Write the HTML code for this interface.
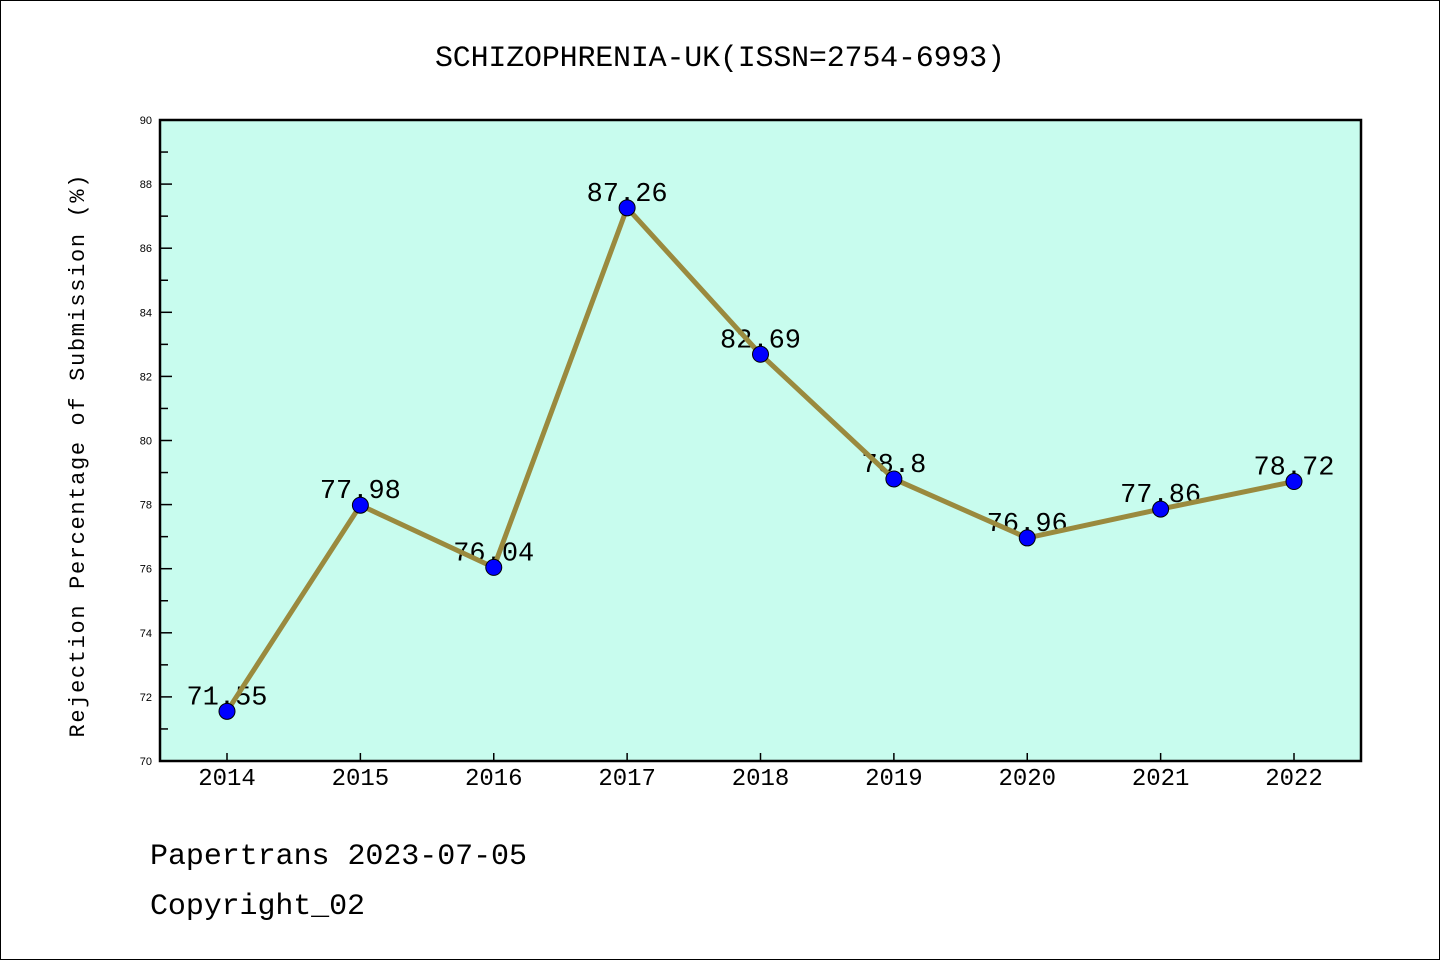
<!DOCTYPE html>
<html><head><meta charset="utf-8"><style>
body{margin:0;background:#fff;}
svg{display:block;font-family:"Liberation Mono","WenQuanYi Zen Hei",monospace;}
</style></head><body>
<svg id="chart" width="1440" height="960">
<rect x="0.5" y="0.5" width="1439" height="959" fill="#fff" stroke="#000"/>
<text x="720" y="66" font-size="30" text-anchor="middle" textLength="570">SCHIZOPHRENIA-UK(ISSN=2754-6993)</text>
<rect x="160" y="120" width="1201" height="641" fill="#c8fcee"/>
<g id="ticks"></g>
<g id="marks"></g>
<rect x="160" y="120" width="1201" height="641" fill="none" stroke="#000" stroke-width="2.5"/>
<text transform="translate(84,456) rotate(-90)" font-size="22" text-anchor="middle" textLength="563">Rejection Percentage of Submission (%)</text>
<text x="150" y="864" font-size="30" textLength="377">Papertrans 2023-07-05</text>
<text x="150" y="914" font-size="30" textLength="215">Copyright_02</text>
</svg>
<script>
const years=[2014,2015,2016,2017,2018,2019,2020,2021,2022];
const values=[71.55,77.98,76.04,87.26,82.69,78.8,76.96,77.86,78.72];
const labels=["71.55","77.98","76.04","87.26","82.69","78.8","76.96","77.86","78.72"];
const yTicks=[70,72,74,76,78,80,82,84,86,88,90];
const NS="http://www.w3.org/2000/svg";
const X0=227,X_STEP=133.375,Y_MIN=70,Y_MAX=90,PLOT_TOP=120,PLOT_BOT=761;
function xs(i){return X0+i*X_STEP;}
function ys(v){return PLOT_BOT-(v-Y_MIN)/(Y_MAX-Y_MIN)*(PLOT_BOT-PLOT_TOP);}
function mk(t,a,p){const e=document.createElementNS(NS,t);for(const k in a)e.setAttribute(k,a[k]);p.appendChild(e);return e;}
const tg=document.getElementById('ticks'),mg=document.getElementById('marks');
yTicks.forEach(v=>{
 const y=ys(v);
 const l=mk('line',{x1:160,x2:172,y1:y,y2:y,stroke:'#000','stroke-width':1.5},tg);
 
 
 const t=mk('text',{x:152,y:y+4,'font-size':11,'text-anchor':'end','font-family':'Liberation Sans, sans-serif'},tg);t.textContent=v;
 
 
 if(v<Y_MAX){const m=ys(v+1);const ml=mk('line',{x1:160,x2:168,y1:m,y2:m,stroke:'#000','stroke-width':1.5},tg);
 
 }
});
years.forEach((yr,i)=>{
 const x=xs(i);
 const l=mk('line',{x1:x,x2:x,y1:PLOT_BOT,y2:PLOT_BOT-8,stroke:'#000','stroke-width':1.5},tg);
 
 
 const t=mk('text',{x:x,y:785,'font-size':24,'text-anchor':'middle'},tg);t.textContent=yr;
 
 
});
values.forEach((v,i)=>{
 const t=mk('text',{x:xs(i),y:ys(v)-7,'font-size':27,'text-anchor':'middle'},mg);t.textContent=labels[i];
 
 
});
const pl=mk('polyline',{points:values.map((v,i)=>xs(i)+','+ys(v)).join(' '),fill:'none',stroke:'#9a8a3e','stroke-width':5,'stroke-linejoin':'round'},mg);


values.forEach((v,i)=>{
 const c=mk('circle',{cx:xs(i),cy:ys(v),r:8,fill:'#0000ff',stroke:'#000','stroke-width':1},mg);
 
 
});
</script>
</body></html>
